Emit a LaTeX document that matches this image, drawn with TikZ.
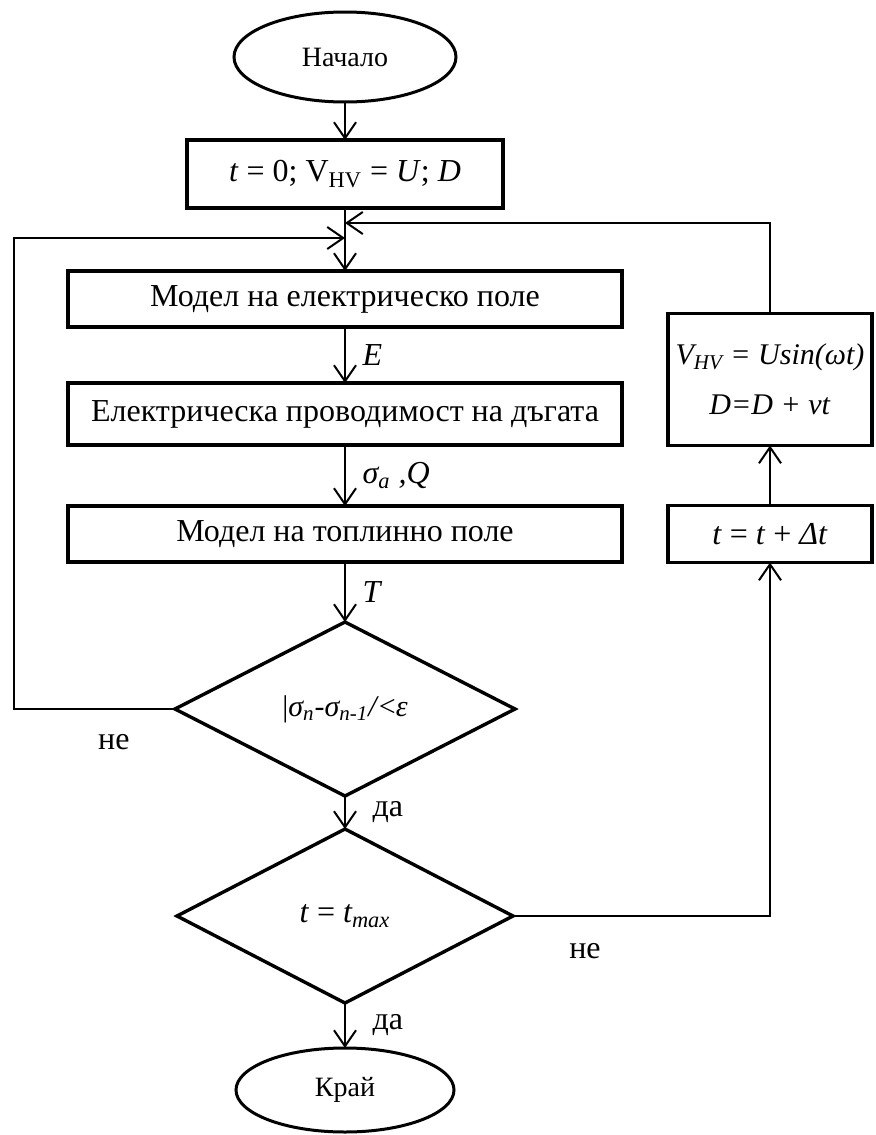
\documentclass[tikz,border=0pt]{standalone}
\usepackage{fontspec}
\setmainfont{Liberation Serif}
\usepackage{tikz}
\usetikzlibrary{positioning}
\usetikzlibrary{shapes.geometric}
\usetikzlibrary{arrows.meta}
\tikzstyle{Term} = [ellipse,draw=black,line width=1.5pt,inner sep=0pt,outer sep=0pt,font=\fontsize{14pt}{17pt}\selectfont]
\tikzstyle{Box} = [rectangle,draw=black,line width=1.7pt,inner sep=0pt,outer sep=0pt]
\tikzstyle{Cond} = [diamond,draw=black,line width=1.7pt,inner sep=0pt,outer sep=0pt]
\tikzset{>={Straight Barb[length=8pt,width=11pt]}}
\newcommand{\lo}[1]{\textsubscript{#1}}

\begin{document}
\begin{tikzpicture}[x=0.5pt,y=-0.5pt,line width=1pt,font=\fontsize{16pt}{19pt}\selectfont]
  \useasboundingbox (0,0) rectangle (876,1135);

  \node [Term,minimum width=111pt,minimum height=45pt] (n1) at (345,57) {Начало};
  \node [Box,minimum width=158pt,minimum height=34pt,below=19pt of n1] (n2) {\textit{t} = 0; V\lo{HV} = \textit{U}; \textit{D}};
  \node [Box,minimum width=277pt,minimum height=28pt,below=31.5pt of n2] (n3) {Модел на електрическо поле};
  \node [Box,minimum width=277pt,minimum height=31pt,below=28pt of n3] (n4) {Електрическа проводимост на дъгата};
  \node [Box,minimum width=277pt,minimum height=28pt,below=30.5pt of n4] (n5) {Модел на топлинно поле};
  \node [Cond,minimum width=170pt,minimum height=87pt,below=30pt of n5,font=\fontsize{15pt}{18pt}\selectfont] (n6) {|\textit{σ\lo{n}-σ\lo{n-1}/}<\textit{ε}};
  \node [Cond,minimum width=168pt,minimum height=87pt,below=16.5pt of n6] (n7) {\textit{t} = \textit{t\lo{max}}};
  \node [Term,minimum width=109pt,minimum height=42pt,below=22.5pt of n7] (n8) {Край};

  \node [Box,minimum width=102pt,minimum height=28.5pt,right=23pt of n5] (n9) {\textit{t} = \textit{t} + \textit{Δt}};
  \node [Box,minimum width=102pt,minimum height=66pt,above=30pt of n9,align=center,font=\fontsize{15pt}{18pt}\selectfont] (n10) {\textit{V\lo{HV} = Usin(ωt)}\\[7pt]\textit{D=D + vt}};

  \coordinate [below=7.5pt of n2] (jr);
  \coordinate [below=7.5pt of jr] (jl);
  \coordinate (lft) at (14,708);

  \draw [->] (n1) -- (n2);
  \draw [->] (n2) -- (n3);
  \draw [->] (n3) -- (n4) node [midway,right=5pt] {\textit{E}};
  \draw [->] (n4) -- (n5) node [midway,right=5pt] {\textit{σ\lo{a} ,Q}};
  \draw [->] (n5) -- (n6) node [midway,right=5pt] {\textit{T}};
  \draw [->] (n6) -- (n7) node [midway,right=10pt] {да};
  \draw [->] (n7) -- (n8) node [midway,right=10pt] {да};

  \draw [->] (n6.west) -- (n6.west -| lft) node [pos=0.38,below=9pt] {не} |- (jl);
  \draw [->] (n7.east) -| (n9.south) node [pos=0.14,below=10pt] {не};
  \draw [->] (n9) -- (n10);
  \draw [->] (n10.north) |- (jr);

\end{tikzpicture}
\end{document}
